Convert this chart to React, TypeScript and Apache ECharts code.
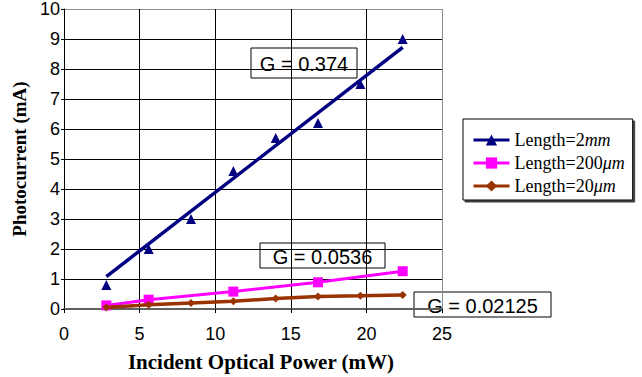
import React, { useEffect, useRef } from 'react';
import * as echarts from 'echarts';

const power2mm = [2.8, 5.6, 8.4, 11.2, 14.0, 16.8, 19.6, 22.4];
const current2mm = [0.8, 2.0, 3.0, 4.6, 5.7, 6.2, 7.5, 9.0];
const power200um = [2.8, 5.6, 11.2, 16.8, 22.4];
const current200um = [0.12, 0.31, 0.58, 0.89, 1.26];
const power20um = [2.8, 5.6, 8.4, 11.2, 14.0, 16.8, 19.6, 22.4];
const current20um = [0.05, 0.14, 0.2, 0.26, 0.35, 0.42, 0.44, 0.47];
const trend2mmX = [2.8, 22.4];
const trend2mmY = [1.08, 8.72];
const seriesNames = ['Length=2mm', 'Length=200μm', 'Length=20μm'];
const seriesColors = ['#000080', '#FF00FF', '#993300'];
const gainLabels = ['G = 0.374', 'G = 0.0536', 'G = 0.02125'];
const xTitle = 'Incident Optical Power (mW)';
const yTitle = 'Photocurrent (mA)';

const zip = (xs: number[], ys: number[]) => xs.map((x, i) => [x, ys[i]]);

const SANS = "'Liberation Sans', Arial, sans-serif";
const SERIF = "'Liberation Serif', 'Times New Roman', serif";

function gainBox(label: string, x: number, y: number, w: number, h: number) {
  return {
    type: 'group',
    children: [
      { type: 'rect', shape: { x, y, width: w, height: h }, style: { fill: '#fff', stroke: '#000', lineWidth: 1 } },
      {
        type: 'text',
        x: x + w / 2,
        y: y + h / 2 + 1,
        style: { text: label, fill: '#000', font: `20px ${SANS}`, align: 'center', verticalAlign: 'middle' },
      },
    ],
  };
}

export default function App() {
  const ref = useRef<HTMLDivElement>(null);
  useEffect(() => {
    if (!ref.current) return;
    const chart = echarts.init(ref.current, undefined, { renderer: 'svg' });
    const ySplitColors = Array.from({ length: 11 }, (_, i) => (i === 10 ? '#8c8c8c' : '#000'));
    const xSplitColors = Array.from({ length: 6 }, (_, i) => (i === 5 ? '#8c8c8c' : '#000'));
    chart.setOption({
      animation: false,
      backgroundColor: '#fff',
      grid: { left: 64, top: 8, width: 378, height: 303, containLabel: false },
      xAxis: {
        type: 'value',
        min: 0,
        max: 25,
        interval: 5,
        name: xTitle,
        nameLocation: 'middle',
        nameGap: 42,
        nameTextStyle: { fontFamily: SERIF, fontWeight: 'bold', fontSize: 21, color: '#000', padding: [0, 0, 0, 16] },
        axisLine: { show: true, onZero: false, lineStyle: { color: '#606060', width: 2 } },
        axisTick: { show: true, inside: false, length: 4, lineStyle: { color: '#000' } },
        axisLabel: { margin: 16, fontFamily: SANS, fontSize: 18, color: '#000' },
        splitLine: { show: true, lineStyle: { color: xSplitColors, width: 1 } },
      },
      yAxis: {
        type: 'value',
        min: 0,
        max: 10,
        interval: 1,
        name: yTitle,
        nameLocation: 'middle',
        nameGap: 33,
        nameTextStyle: { fontFamily: SERIF, fontWeight: 'bold', fontSize: 19, color: '#000' },
        axisLine: { show: true, onZero: false, lineStyle: { color: '#000', width: 1 } },
        axisTick: { show: true, inside: false, length: 3, lineStyle: { color: '#000' } },
        axisLabel: { margin: 4, fontFamily: SANS, fontSize: 18, color: '#000' },
        splitLine: { show: true, lineStyle: { color: ySplitColors, width: 1 } },
      },
      legend: {
        orient: 'vertical',
        left: 463,
        top: 119,
        width: 170,
        padding: [12, 8, 5, 9],
        itemWidth: 36,
        itemHeight: 14,
        itemGap: 5,
        backgroundColor: '#fff',
        borderColor: '#000',
        borderWidth: 1,
        shadowColor: '#404040',
        shadowOffsetX: 2,
        shadowOffsetY: 2,
        shadowBlur: 0,
        textStyle: {
          fontFamily: SERIF,
          fontSize: 18,
          color: '#000',
          rich: { i: { fontFamily: SERIF, fontSize: 18, fontStyle: 'italic', color: '#000' } },
        },
        formatter: (name: string) => name.replace(/(mm|μm)$/, '{i|$1}'),
        data: seriesNames.map((n, i) => ({
          name: n,
          lineStyle: { color: seriesColors[i], width: 3, opacity: 1 },
        })),
      },
      graphic: [
        gainBox(gainLabels[0], 251, 48, 106, 30),
        gainBox(gainLabels[1], 260, 243, 125, 25),
        gainBox(gainLabels[2], 414, 292, 137, 25),
      ],
      series: [
        {
          name: seriesNames[1],
          type: 'line',
          data: zip(power200um, current200um),
          symbol: 'rect',
          symbolSize: 10,
          itemStyle: { color: seriesColors[1] },
          lineStyle: { color: seriesColors[1], width: 3 },
          z: 3,
        },
        {
          name: seriesNames[2],
          type: 'line',
          data: zip(power20um, current20um),
          symbol: 'diamond',
          symbolSize: 8,
          itemStyle: { color: seriesColors[2] },
          lineStyle: { color: seriesColors[2], width: 3.5 },
          z: 4,
        },
        {
          name: seriesNames[0],
          type: 'line',
          data: zip(power2mm, current2mm),
          symbol: 'triangle',
          symbolSize: 10,
          itemStyle: { color: seriesColors[0] },
          lineStyle: { opacity: 0, width: 0 },
          z: 5,
        },
        {
          name: 'trend2mm',
          type: 'line',
          data: zip(trend2mmX, trend2mmY),
          symbol: 'none',
          lineStyle: { color: seriesColors[0], width: 3.5 },
          z: 6,
        },
      ],
    });
    return () => chart.dispose();
  }, []);
  return <div ref={ref} style={{ position: 'fixed', left: 0, top: 0, width: 642, height: 377 }} />;
}
